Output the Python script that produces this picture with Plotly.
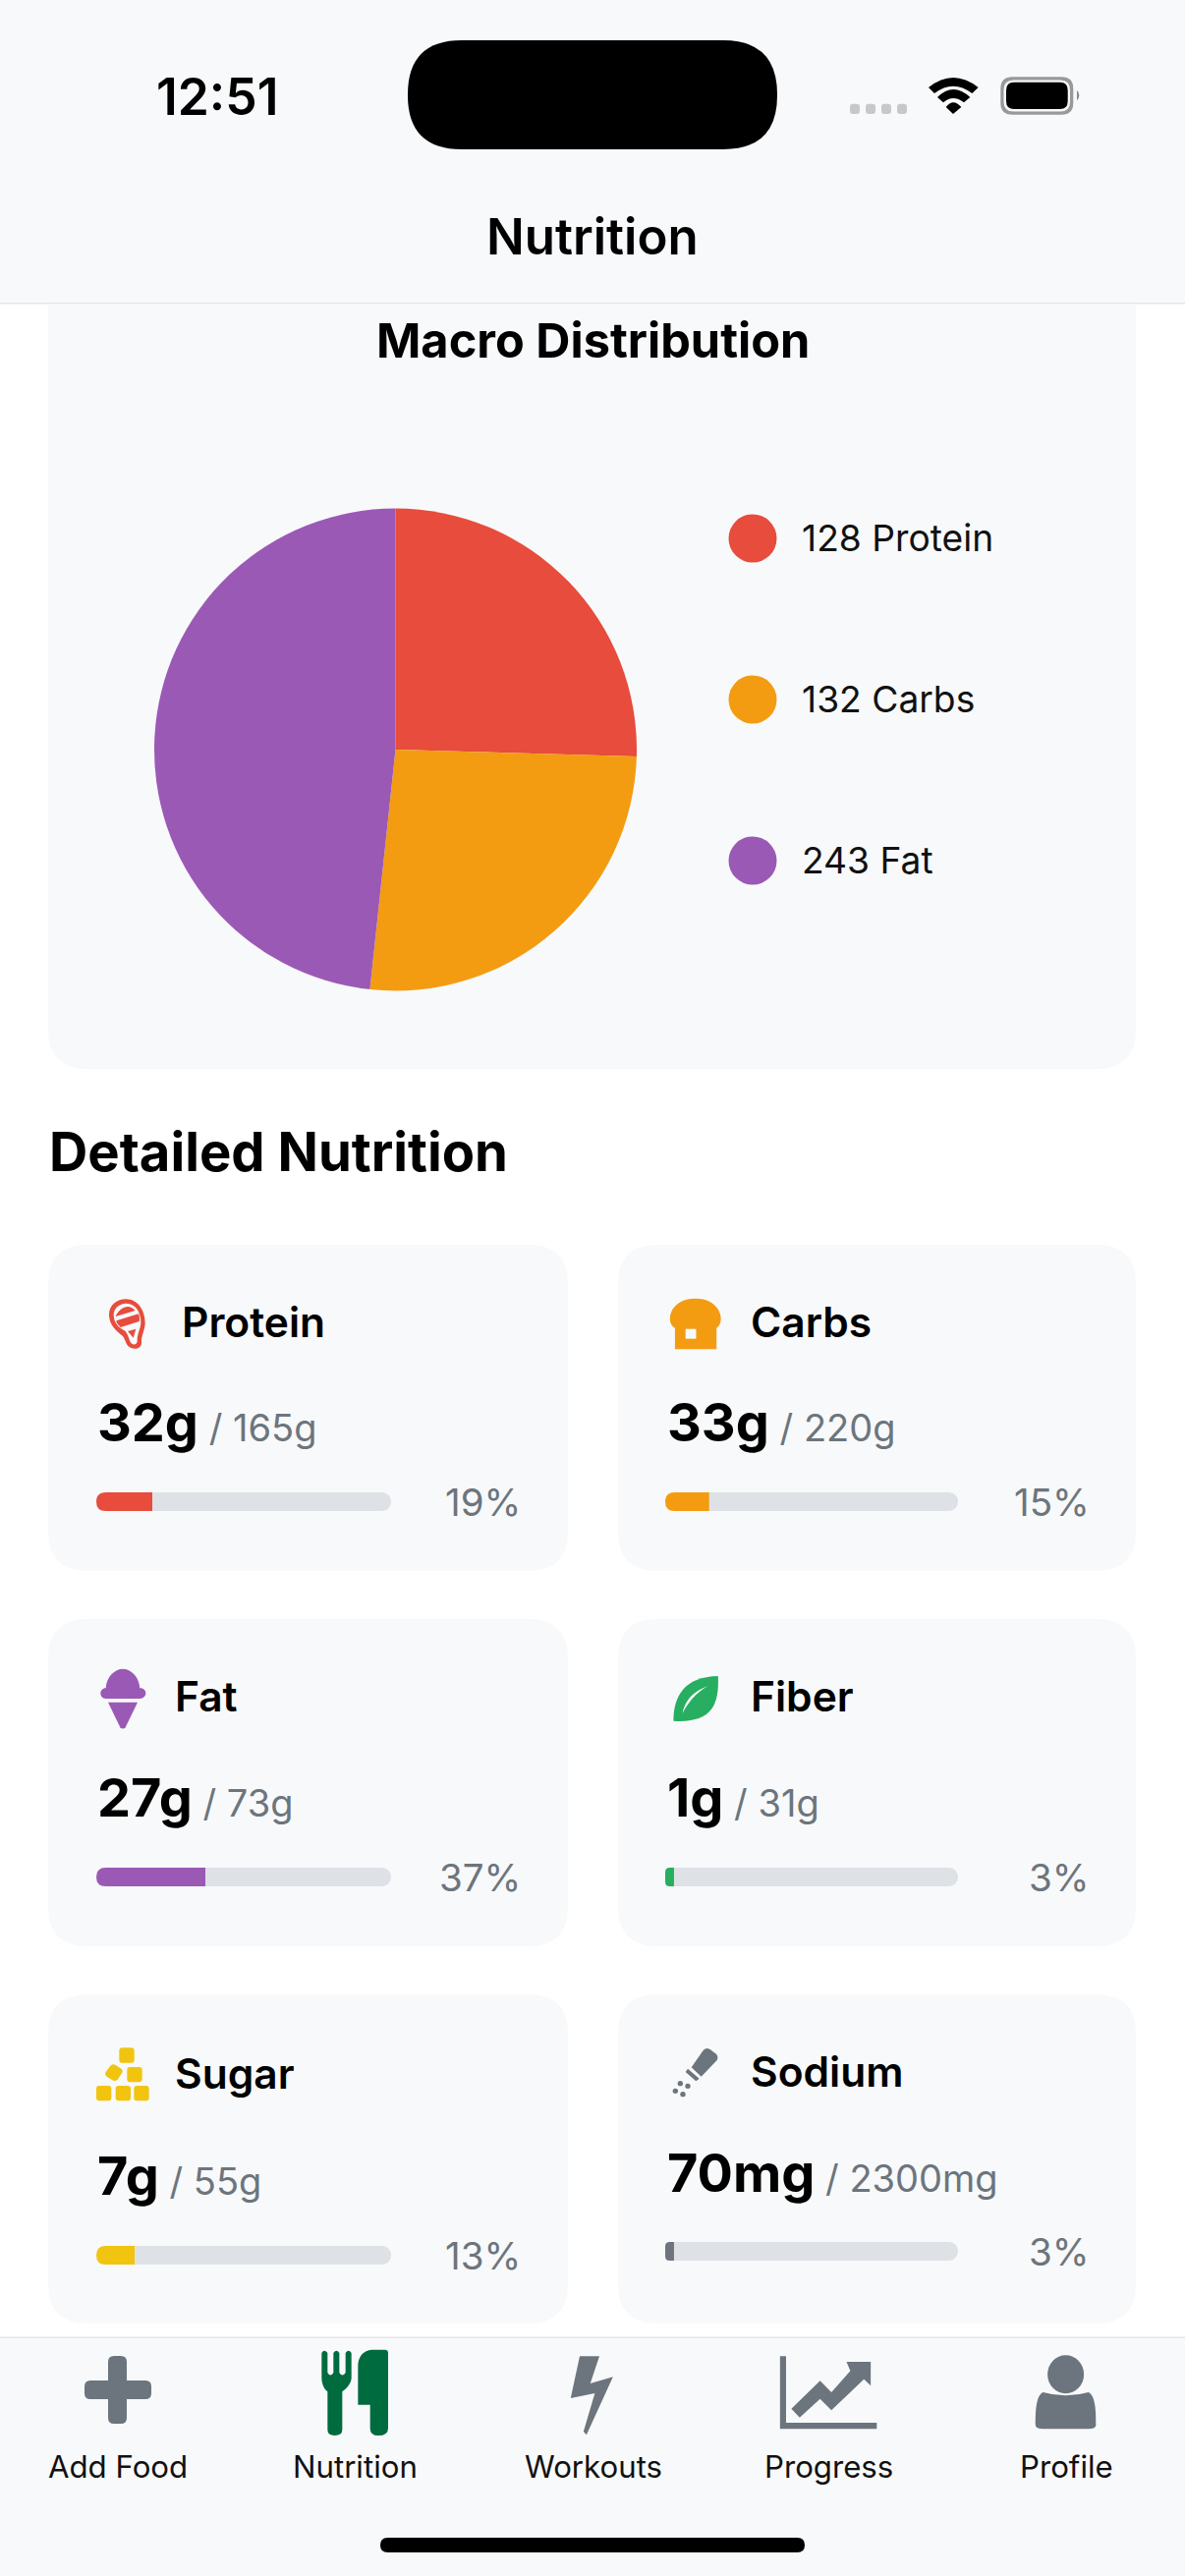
import plotly.graph_objects as go

W, H = 1206, 2622

# pie data
macro_names = ["Protein", "Carbs", "Fat"]
macro_values = [128, 132, 243]
macro_colors = ["#e74c3c", "#f39c12", "#9b59b6"]

# detail cards
card_names = ["Protein", "Carbs", "Fat", "Fiber", "Sugar", "Sodium"]
card_values = ["32g", "33g", "27g", "1g", "7g", "70mg"]
card_goals = ["165g", "220g", "73g", "31g", "55g", "2300mg"]
card_pcts = [19, 15, 37, 3, 13, 3]
card_colors = ["#e74c3c", "#f39c12", "#9b59b6", "#27ae60", "#f1c40f", "#6c757d"]

tab_names = ["Add Food", "Nutrition", "Workouts", "Progress", "Profile"]

GRAY = "#6c757d"
BG = "#f8f9fa"
TRACK = "#dee2e6"
FONT = "Inter"

shapes = []
annotations = []


# all paths are written in pixels (or zoomed pixels) and turned into paper coords here
def path(d, color, sx=1.0, sy=1.0, x0=0, y0=0, line=None, lw=0, layer="below"):
    out = []
    is_x = True
    for tok in d.split():
        if tok.isalpha():
            out.append(tok)
            is_x = True
        elif is_x:
            out.append(str((x0 + float(tok) * sx) / W))
            is_x = False
        else:
            out.append(str(1 - (y0 + float(tok) * sy) / H))
            is_x = True
    shapes.append(dict(type="path", path=" ".join(out), xref="paper", yref="paper",
                       fillcolor=color, layer=layer,
                       line=dict(color=line or "rgba(0,0,0,0)", width=lw)))


def rrect(x0, y0, x1, y1, r, color, top=True):
    rt = r if top else 0
    d = (f"M {x0+rt} {y0} L {x1-rt} {y0} Q {x1} {y0} {x1} {y0+rt} L {x1} {y1-r} "
         f"Q {x1} {y1} {x1-r} {y1} L {x0+r} {y1} Q {x0} {y1} {x0} {y1-r} "
         f"L {x0} {y0+rt} Q {x0} {y0} {x0+rt} {y0} Z")
    path(d, color)


def ellipse(cx, cy, rx, ry, color):
    shapes.append(dict(type="circle", xref="paper", yref="paper", layer="below",
                       x0=(cx-rx)/W, x1=(cx+rx)/W, y0=1-(cy+ry)/H, y1=1-(cy-ry)/H,
                       fillcolor=color, line=dict(width=0)))


def label(x, y, text, size, color="#000000", weight=400, anchor="left"):
    annotations.append(dict(x=x/W, y=1-y/H, xref="paper", yref="paper", text=text,
                            showarrow=False, xanchor=anchor, yanchor="middle", borderpad=0,
                            font=dict(family=FONT, size=size, color=color, weight=weight)))


# coords
def zp(d, color, y0):
    path(d, color, 1/1.3, 1/3, 0, y0)


def ip(d, color, ox, oy):
    path(d, color, 1/3, 1/3, ox, oy)


# header and tab bar
path(f"M 0 0 L {W} 0 L {W} 308 L 0 308 Z", BG)
path(f"M 0 308 L {W} 308 L {W} 309.5 L 0 309.5 Z", "#e4e5e7")
rrect(415, 41, 791, 152, 55, "#000000")
label(221, 98, "12:51", 51.5, weight=600, anchor="center")
label(603, 240, "Nutrition", 51, weight=600, anchor="center")
for dx in [865, 881, 897, 913]:
    rrect(dx, 105.7, dx+10, 116, 3, "#c8c8c8")
# wifi
ip("M 285 72 Q 360 12 437 72 L 418 90 Q 360 46 303 90 Z", "#000000", 850, 65)
ip("M 312 102 Q 360 54 412 102 L 393 118 Q 360 92 330 118 Z", "#000000", 850, 65)
ip("M 338 132 Q 360 104 385 132 L 360 153 Z", "#000000", 850, 65)
# battery
rrect(1018.3, 78.3, 1092.3, 116.7, 12, "#999999")
rrect(1021.5, 81.5, 1089, 113.5, 10, BG)
rrect(1024, 83.7, 1086.7, 111, 8, "#000000")
ip("M 738 80 Q 752 96 738 112 Z", "#888888", 850, 65)

# macro card
rrect(49, 309.5, 1156, 1088, 40, BG, top=False)
label(603, 346.5, "Macro Distribution", 48.7, weight=700, anchor="center")
for cy, n, v, c in zip([548, 712, 876], macro_names, macro_values, macro_colors):
    ellipse(766, cy, 24.5, 24.5, c)
    label(814.5, cy-1, f"{v} {n}", 37.2, color="#111111")

label(48.5, 1171.5, "Detailed Nutrition", 54.4, weight=700)

# cards, one row of pixel positions per card
card_boxes = [(49, 1267, 578, 1599), (629, 1267, 1156, 1599),
              (49, 1648, 578, 1981), (629, 1648, 1156, 1981),
              (49, 2030, 578, 2365), (629, 2030, 1156, 2365)]
name_pos = [(184, 1345.5), (763, 1345.5), (177, 1726.5), (763, 1726.5), (177, 2110.5), (763, 2108.5)]
value_pos = [(97.5, 1447), (677.5, 1447), (97.5, 1829.5), (677.5, 1829.5), (97.5, 2214.5), (677.5, 2211.5)]
bar_boxes = [(98, 1519, 398, 1538), (677, 1519, 975, 1538),
             (98, 1901, 398, 1920), (677, 1901, 975, 1920),
             (98, 2286, 398, 2305), (677, 2282, 975, 2301)]
pct_x = [531, 1110, 531, 1110, 531, 1110]

traces = [go.Pie(labels=macro_names, values=macro_values, sort=False, direction="clockwise",
                 rotation=0, textinfo="none", hoverinfo="skip", showlegend=False,
                 marker=dict(colors=macro_colors, line=dict(width=0)),
                 domain=dict(x=[157/W, 648/W], y=[1-1009/H, 1-517/H]))]

layout_axes = {}
for i in range(6):
    x0, y0, x1, y1 = card_boxes[i]
    rrect(x0, y0, x1, y1, 40, BG)
    label(name_pos[i][0], name_pos[i][1], card_names[i], 42.5, weight=600)
    label(value_pos[i][0], value_pos[i][1],
          f"{card_values[i]}<span style=\"font-size:38px;color:{GRAY};font-weight:400\"> / {card_goals[i]}</span>",
          54, weight=700)
    bx0, by0, bx1, by1 = bar_boxes[i]
    label(pct_x[i], (by0+by1)/2, f"{card_pcts[i]}%", 38.5, color=GRAY, anchor="right")
    n = i + 2
    xa, ya = f"x{n}", f"y{n}"
    traces.append(go.Bar(x=[100], y=[0], width=1, orientation="h", xaxis=xa, yaxis=ya,
                         marker=dict(color=TRACK, cornerradius=10, line=dict(width=0)),
                         hoverinfo="skip", showlegend=False))
    traces.append(go.Bar(x=[card_pcts[i]], y=[0], width=1, orientation="h", xaxis=xa, yaxis=ya,
                         marker=dict(color=card_colors[i], cornerradius=10, line=dict(width=0)),
                         hoverinfo="skip", showlegend=False))
    layout_axes[f"xaxis{n}"] = dict(domain=[bx0/W, bx1/W], range=[0, 100], visible=False,
                                    anchor=ya, fixedrange=True)
    layout_axes[f"yaxis{n}"] = dict(domain=[1-by1/H, 1-by0/H], range=[-0.5, 0.5], visible=False,
                                    anchor=xa, fixedrange=True)
    # plotly only rounds the far end of a bar, so cut the left corners with the card colour
    r = 9.5 if card_pcts[i] > 5 else 4.5
    path(f"M {bx0-1} {by0-1} L {bx0+r} {by0-1} L {bx0+r} {by0} Q {bx0} {by0} {bx0} {by0+r} L {bx0-1} {by0+r} Z",
         BG, layer="above")
    path(f"M {bx0-1} {by1+1} L {bx0+r} {by1+1} L {bx0+r} {by1} Q {bx0} {by1} {bx0} {by1-r} L {bx0-1} {by1-r} Z",
         BG, layer="above")

# icons
# protein
RED = "#e74c3c"
ip("M 100 37 C 135 37 158 70 158 110 C 158 130 145 150 147 170 C 148 185 130 192 115 186 "
   "C 100 180 100 165 90 150 C 70 135 48 115 48 85 C 48 55 72 37 100 37 Z", RED, 95, 1310)
ip("M 100 50 C 128 50 145 75 145 108 C 145 125 133 145 134 165 C 134 178 118 178 113 168 "
   "C 108 155 105 145 98 135 C 78 125 62 110 62 85 C 62 65 80 50 100 50 Z", BG, 95, 1310)
ip("M 68 90 C 75 70 95 58 108 60 C 118 62 125 68 128 72 Z", RED, 95, 1310)
ip("M 70 103 L 138 82 C 141 90 142 100 140 105 L 83 123 C 75 115 70 110 70 103 Z", RED, 95, 1310)
ip("M 105 135 L 130 128 L 122 155 Z", RED, 95, 1310)
# carbs
zp("M 893 400 L 893 335 C 880 320 885 245 920 245 C 955 245 960 320 948 335 L 948 400 Z", "#f39c12", 1240)
zp("M 907 338 L 921 338 L 921 368 L 907 368 Z", BG, 1240)
# fat
PURPLE = "#9b59b6"
ip("M 38 85 C 40 50 65 26 90 26 C 115 26 140 50 142 85 C 155 85 160 93 160 100 C 160 110 152 117 142 117 "
   "L 38 117 C 28 117 22 110 22 100 C 22 93 28 85 38 85 Z", PURPLE, 95, 1690)
ip("M 45 128 L 135 128 L 98 205 Q 90 212 82 205 Z", PURPLE, 95, 1690)
# fiber
zp("M 950 198 C 905 200 891 260 891 335 C 940 342 952 290 950 198 Z", "#27ae60", 1640)
zp("M 937 228 C 915 245 905 280 903 312 C 910 280 920 250 937 228 Z", BG, 1640)
# sugar
YELLOW = "#f1c40f"
for bx, by in [(94, 28), (118, 87), (24, 144), (83, 144), (139, 144)]:
    rrect(90+bx/3, 2075+by/3, 90+(bx+46)/3, 2075+(by+46)/3, 3, YELLOW)
ip("M 68 82 Q 75 76 82 80 L 100 92 Q 107 98 102 106 L 90 124 Q 84 132 76 128 L 56 116 Q 48 110 53 102 Z",
   YELLOW, 90, 2075)
# sodium
ip("M 122 36 Q 130 26 142 32 L 160 46 Q 170 54 164 66 L 116 116 L 86 88 Z", GRAY, 675, 2075)
ip("M 75 92 L 110 122 L 100 130 L 68 102 Z", GRAY, 675, 2075)
for zx, zy in [(52, 137), (37, 160), (75, 145), (60, 170)]:
    ellipse(675+zx/3, 2075+zy/3, 2.7, 2.7, GRAY)

# tab bar
path(f"M 0 2379 L {W} 2379 L {W} {H} L 0 {H} Z", BG)
path(f"M 0 2378.5 L {W} 2378.5 L {W} 2380 L 0 2380 Z", "#e4e4ec")
for tx, name in zip([119.5, 361.5, 604, 843, 1085], tab_names):
    label(tx, 2510.5, name, 31.2, color="#111111", anchor="center")
rrect(387, 2583, 819, 2598, 7.5, "#000000")
# add food
rrect(110, 2398, 129, 2467, 6, GRAY)
rrect(86, 2423, 154, 2442, 6, GRAY)
# fork and knife
GREEN = "#006b3f"
ip("M 52 30 Q 60 16 70 30 L 70 90 Q 79 105 88 90 L 88 30 Q 97 16 106 30 L 106 90 Q 115 105 125 90 L 125 30 "
   "Q 134 16 143 30 L 143 105 C 143 125 125 140 115 148 L 115 265 Q 115 282 92 282 Q 70 282 70 265 L 70 148 "
   "C 60 140 52 125 52 105 Z", GREEN, 310, 2385)
ip("M 205 20 C 180 22 163 40 163 70 L 163 188 L 200 188 L 200 260 Q 200 282 225 282 Q 255 282 255 260 "
   "L 255 30 Q 255 20 245 20 Z", GREEN, 310, 2385)
# workouts
zp("M 767 115 L 793 115 L 781 198 L 811 178 L 776 355 L 772 345 L 787 228 L 755 243 Z", GRAY, 2360)
# progress
zp("M 1032 115 L 1040 115 L 1040 318 L 1160 318 L 1160 337 L 1032 337 Z", GRAY, 2360)
zp("M 1047 275 L 1085 190 L 1100 225 L 1125 160 L 1120 132 L 1152 132 L 1152 205 L 1143 185 L 1100 280 L 1085 245 L 1058 302 Z",
   GRAY, 2360)
# profile
ellipse(1410/1.3, 2360+170/3, 18.5, 19.5, GRAY)
zp("M 1380 225 Q 1410 245 1440 225 C 1450 235 1450 290 1450 325 Q 1450 337 1440 337 L 1380 337 Q 1370 337 1370 325 C 1370 290 1370 235 1380 225 Z",
   GRAY, 2360)

fig = go.Figure(traces)
fig.update_layout(width=W, height=H, margin=dict(l=0, r=0, t=0, b=0, pad=0),
                  paper_bgcolor="#ffffff", plot_bgcolor="rgba(0,0,0,0)",
                  barmode="overlay", shapes=shapes, annotations=annotations,
                  font=dict(family=FONT), **layout_axes)
fig.write_html("out.html", config={"displayModeBar": False},
               post_script="document.body.style.margin='0';")
